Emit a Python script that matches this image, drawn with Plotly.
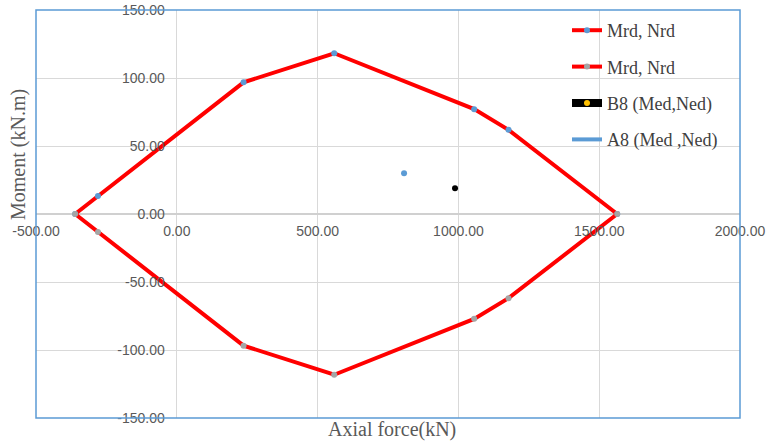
import plotly.graph_objects as go

# Interaction diagram: axial force N (kN) vs moment M (kN.m)
n_upper = [-361, -280, 237, 559, 1056, 1178, 1564]
m_upper = [0, 13.2, 96.8, 118.2, 77.1, 61.9, 0]
n_lower = [-361, -280, 237, 559, 1056, 1178, 1564]
m_lower = [0, -13.2, -96.8, -118.2, -77.1, -61.9, 0]

# Design actions
b8_n = [988]
b8_m = [19]
a8_n = [807]
a8_m = [30]

x_ticks = [-500, 0, 500, 1000, 1500, 2000]
y_ticks = [-150, -100, -50, 0, 50, 100, 150]

RED = "#FF0000"
BLUE = "#5B9BD5"
GRAY = "#A5A5A5"
ORANGE = "#FFC000"

W, H = 767, 442
L, R, T, B = 36, 27, 10, 24

fig = go.Figure()
fig.add_trace(go.Scatter(x=n_upper, y=m_upper, mode="lines+markers", name="Mrd, Nrd",
                         line=dict(color=RED, width=4), marker=dict(color=BLUE, size=6),
                         legendgroup="g1"))
fig.add_trace(go.Scatter(x=n_lower, y=m_lower, mode="lines+markers", name="Mrd, Nrd",
                         line=dict(color=RED, width=4), marker=dict(color=GRAY, size=6),
                         legendgroup="g2"))
fig.add_trace(go.Scatter(x=b8_n, y=b8_m, mode="markers", showlegend=False,
                         marker=dict(color="black", size=6)))
fig.add_trace(go.Scatter(x=[None], y=[None], mode="lines+markers", name="B8 (Med,Ned)",
                         line=dict(color="black", width=8), marker=dict(color=ORANGE, size=6),
                         legendgroup="g3"))
fig.add_trace(go.Scatter(x=a8_n, y=a8_m, mode="markers", showlegend=False,
                         marker=dict(color=BLUE, size=6)))
fig.add_trace(go.Scatter(x=[None], y=[None], mode="lines", name="A8 (Med ,Ned)",
                         line=dict(color=BLUE, width=4), legendgroup="g4"))

tick_font = dict(family="Liberation Sans, Arial, sans-serif", size=14, color="#595959")
fig.update_layout(
    width=W, height=H,
    margin=dict(l=L, r=R, t=T, b=B, autoexpand=False),
    paper_bgcolor="white", plot_bgcolor="white",
    showlegend=True,
    legend=dict(x=(567 - L) / (W - L - R), y=1 - 2 / (H - T - B), xanchor="left", yanchor="top",
                bgcolor="rgba(0,0,0,0)", tracegroupgap=10,
                font=dict(family="Liberation Serif, Times New Roman, serif", size=18, color="#404040")),
    xaxis=dict(range=[-500, 2000], tickvals=x_ticks, ticktext=[f"{v:.2f}" for v in x_ticks],
               showgrid=True, gridcolor="#D9D9D9", gridwidth=1, zeroline=False,
               showline=False, ticks="", anchor="free", position=0.5, automargin=False,
               tickfont=tick_font, ticklabelstandoff=7),
    yaxis=dict(range=[-150, 150], tickvals=y_ticks, ticktext=[f"{v:.2f}" for v in y_ticks],
               showgrid=True, gridcolor="#D9D9D9", gridwidth=1, zeroline=True,
               zerolinecolor="#D0D0D0", zerolinewidth=1.5, automargin=False,
               showline=False, ticks="", anchor="free", position=0.2,
               tickfont=tick_font, ticklabelstandoff=12),
)

# plot-area border
fig.add_shape(type="rect", xref="paper", yref="paper", x0=0, x1=1, y0=0, y1=1,
              line=dict(color=BLUE, width=1.5), layer="above")

title_font = dict(family="Liberation Serif, Times New Roman, serif", size=20, color="#595959")
fig.add_annotation(text="Axial force(kN)", xref="paper", yref="paper",
                   x=(392 - L) / (W - L - R), y=-(430 - (H - B)) / (H - T - B),
                   showarrow=False, font=title_font, xanchor="center", yanchor="middle")
fig.add_annotation(text="Moment (kN.m)", xref="paper", yref="paper",
                   x=-(L - 18) / (W - L - R), y=1 - (155 - T) / (H - T - B),
                   showarrow=False, font=title_font, textangle=-90,
                   xanchor="center", yanchor="middle")

fig.write_html("out.html")
